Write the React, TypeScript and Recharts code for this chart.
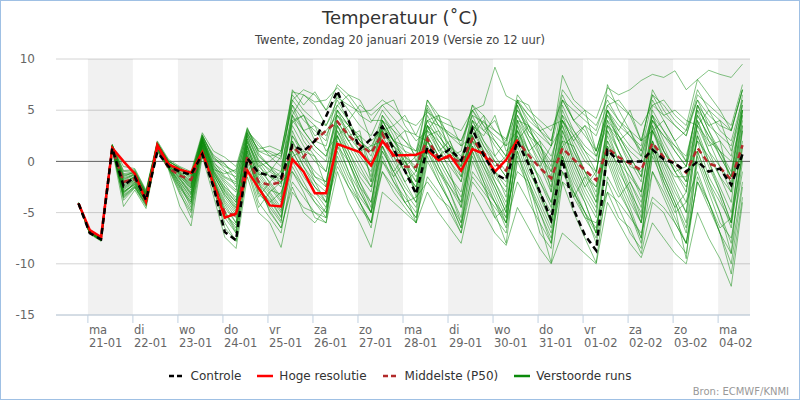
import React from "react";
import {
  LineChart,
  Line,
  XAxis,
  YAxis,
  CartesianGrid,
  ReferenceArea,
  ReferenceLine
} from "recharts";

// dagen op de x-as (uren vanaf ma 21-01 00:00)
const dayNames = ["ma", "di", "wo", "do", "vr", "za", "zo", "ma", "di", "wo", "do", "vr", "za", "zo", "ma"];
const dayDates = ["21-01", "22-01", "23-01", "24-01", "25-01", "26-01", "27-01", "28-01", "29-01", "30-01", "31-01", "01-02", "02-02", "03-02", "04-02"];
const dayTicks = [0, 24, 48, 72, 96, 120, 144, 168, 192, 216, 240, 264, 288, 312, 336];
const shadedDays = [[0, 24], [48, 72], [96, 120], [144, 168], [192, 216], [240, 264], [288, 312], [336, 353]];
const yTicks = [-15, -10, -5, 0, 5, 10];

// tijdstappen (6-uurlijks)
const stepHours = [
  -5, 1, 7, 13, 19, 25, 31, 37, 43, 49, 55, 61, 67, 73, 79, 85, 91, 97, 103, 109,
  115, 121, 127, 133, 139, 145, 151, 157, 163, 169, 175, 181, 187, 193, 199, 205, 211, 217, 223, 229,
  235, 241, 247, 253, 259, 265, 271, 277, 283, 289, 295, 301, 307, 313, 319, 325, 331, 337, 343, 349
];

const controle = [
  -4.1, -7.0, -7.6, 1.3, -2.4, -1.5, -3.8, 0.9, -0.5, -1.0, -1.3, 0.7, -2.5, -6.9, -7.7, 0.3, -1.1, -1.4, -1.6, 1.6,
  1.0, 2.0, 4.4, 6.9, 4.0, 1.2, 2.2, 3.4, 1.2, -0.9, -3.2, 1.4, 0.4, 1.2, 0.1, 3.2, 0.6, -1.2, -1.8, 2.0,
  -0.3, -3.0, -5.7, 0.2, -4.7, -7.2, -8.7, 1.1, 0.0, 0.0, 0.0, 1.15, 0.2, -0.2, -1.0, 0.0, -1.0, -0.7, -2.3, 0.7
];

const hogeResolutie = [
  -4.1, -6.7, -7.4, 1.3, 0.0, -1.2, -3.9, 1.6, -0.3, -0.8, -1.1, 0.9, -2.2, -5.5, -5.1, -0.9, -2.6, -4.3, -4.4, 0.2,
  -1.0, -3.1, -3.1, 1.7, 1.3, 0.9, -0.4, 2.0, 0.6, 0.6, 0.65, 1.1, 0.1, 0.6, -0.9, 1.2, 0.75, -1.0, 0.15, 2.1
];

const middelste = [
  -4.1, -6.9, -7.5, 1.3, -2.0, -1.7, -3.5, 1.3, -0.65, -1.4, -1.8, 0.8, -2.2, -5.0, -5.3, 0.5, -2.0, -2.3, -2.0, 1.5,
  0.4, 2.0, 3.0, 3.9, 2.5, 1.6, 0.8, 2.7, 0.4, -0.5, -0.55, 2.2, 0.3, 0.4, -0.1, 2.2, 0.8, -0.2, -0.9, 2.0,
  0.6, -0.65, -1.65, 1.3, 0.2, -0.85, -1.85, 1.3, 0.4, -0.2, -0.85, 1.8, 0.4, -0.2, -1.1, 1.3, -0.2, -0.6, -1.8, 1.6
];

const verstoordeRuns = [
  [-4.1, -6.9, -7.5, 1.6, -1.2, -1.0, -3.0, 1.8, -0.2, -0.8, -1.5, 2.5, -0.8, -1.2, -0.8, 3.2, 1.0, 0.5, 0.8,
    6.8, 6.5, 5.8, 6.0, 7.2, 6.0, 4.5, 3.8, 5.5, 4.2, 3.0, 2.6, 5.2, 3.5, 2.8, 2.0, 4.5, 3.8, 3.0, 2.2,
    5.8, 4.0, 3.0, 1.5, 8.4, 6.0, 5.0, 4.2, 7.2, 6.5, 7.0, 7.9, 8.5, 8.2, 8.85, 7.0, 8.0, 8.9, 8.5, 8.2, 9.5],
  [-4.0, -6.8, -7.4, 1.5, -0.5, -0.7, -2.8, 2.0, 0.2, -0.5, -1.0, 2.8, 1.0, 0.4, -0.5, 3.3, 0.8, -0.5, -1.5,
    7.0, 5.5, 6.8, 5.0, 6.2, 5.5, 4.8, 5.0, 6.0, 5.2, 4.0, 3.5, 4.8, 4.0, 3.5, 3.0, 5.0, 5.5, 9.2, 6.4,
    5.8, 4.5, 3.0, 2.0, 6.5, 4.0, 2.5, 1.0, 5.0, 3.0, 1.5, 0.5, 4.0, 2.5, 1.0, -0.5, 3.5, 2.0, 1.0, 0.0, 4.5],
  [-4.1, -7.0, -7.6, 1.3, -3.5, -2.5, -4.2, 1.2, -0.5, -2.5, -4.0, 1.5, -2.0, -4.5, -6.0, 1.5, -2.0, -3.5, -5.0,
    1.0, -1.0, -2.5, -3.5, 3.0, 1.0, -1.5, -3.0, 2.5, 0.5, -1.0, -2.5, 3.0, 1.0, -0.5, -2.0, 2.5, 0.0, -2.0, -4.0,
    2.0, -1.0, -3.0, -5.0, 3.0, 0.5, -2.0, -4.0, 2.5, 0.0, -1.5, -3.0, 3.5, 1.0, -1.0, -2.5, 2.0, 0.5, -1.5, -3.0, 3.0],
  [-4.2, -7.1, -7.8, 1.1, -4.4, -2.8, -4.6, 1.0, -0.8, -4.4, -6.3, 0.5, -3.4, -7.4, -8.5, -1.5, -5.0, -6.0, -8.4,
    -3.0, -4.5, -5.0, -6.0, -1.0, -4.0, -6.0, -8.4, -3.0, -4.0, -5.0, -6.0, -3.0, -5.0, -6.5, -8.0, -3.0, -5.0, -7.0, -8.2,
    -4.5, -6.5, -8.5, -10.0, -7.0, -8.0, -9.0, -10.0, -4.0, -6.0, -8.0, -9.4, -6.0, -7.5, -9.0, -10.0, -5.0, -7.5, -9.5, -12.2, -4.0],
  [-4.1, -6.9, -7.5, 1.4, -2.0, -1.5, -3.5, 1.6, -0.3, -1.2, -2.5, 2.2, -1.0, -3.0, -4.5, 2.5, 0.0, -1.5, -2.5,
    4.5, 2.0, 0.5, -1.0, 5.0, 2.5, 3.0, -2.0, 4.0, 2.0, 0.5, -1.0, 4.5, 2.5, 1.0, -0.5, 4.0, 2.0, 0.5, -1.0,
    4.5, 2.0, 0.0, -2.5, 5.5, 3.0, 1.0, -1.0, 4.5, 2.0, 0.0, -2.0, 5.0, 3.0, 1.0, -0.5, 4.5, 2.5, 1.0, -1.5, 5.0],
  [-4.1, -7.0, -7.7, 1.2, -3.0, -2.2, -3.9, 1.4, -0.6, -2.0, -3.5, 1.8, -1.5, -5.0, -6.5, 0.5, -3.0, -4.5, -6.0,
    3.0, 0.5, -2.0, -4.0, 2.0, -1.0, -4.0, -6.0, 0.5, -2.0, -3.5, -5.0, 1.5, -1.0, -3.0, -5.5, 2.5, 0.0, -2.5, -5.0,
    3.5, 0.0, -3.0, -6.0, 2.0, -1.0, -3.5, -5.5, 3.0, 0.0, -3.0, -6.0, 1.5, -1.5, -4.0, -6.5, 1.0, -2.0, -5.0, -8.0, 0.0],
  [-4.0, -6.8, -7.5, 1.7, -1.8, -1.2, -3.2, 1.9, 0.0, -0.6, -1.2, 2.6, 0.2, -0.5, -1.0, 3.0, 1.0, 1.0, 0.5,
    5.5, 4.0, 3.0, 2.0, 6.5, 5.0, 3.5, 2.5, 5.0, 3.5, 2.0, 1.0, 6.0, 4.0, 2.5, 1.5, 5.5, 4.5, 3.0, 2.0,
    6.0, 4.5, 3.5, 2.0, 7.0, 5.5, 4.5, 3.5, 6.0, 4.0, 3.0, 2.0, 6.5, 5.5, 4.0, 3.0, 7.0, 5.0, 4.0, 3.0, 7.0],
  [-4.1, -6.9, -7.6, 1.3, -2.6, -1.8, -3.6, 1.5, -0.4, -1.6, -3.0, 2.0, -0.5, -2.0, -3.0, 2.0, -1.0, -2.5, -4.0,
    2.0, 0.0, -1.5, -2.5, 4.0, 2.0, 0.5, -1.0, 3.5, 1.5, 0.0, -2.0, 2.5, 0.5, -1.5, -3.0, 3.0, 1.0, -1.0, -3.5,
    4.0, 2.0, -0.5, -3.0, 4.5, 1.5, -1.0, -3.5, 3.5, 1.0, -1.0, -3.5, 4.0, 1.5, -1.0, -3.0, 5.0, 2.0, -0.5, -3.0, 5.0],
  [-4.1, -7.0, -7.7, 1.2, -3.8, -2.6, -4.4, 1.1, -0.7, -3.2, -5.0, 1.0, -2.8, -6.0, -7.8, -0.5, -4.0, -5.5, -7.0,
    -1.0, -2.5, -3.5, -5.0, 0.5, -2.0, -4.0, -6.0, 1.0, -1.0, -3.0, -4.5, 2.0, -0.5, -3.0, -6.0, 1.0, -1.5, -4.0, -6.5,
    2.5, -0.5, -3.5, -6.0, 1.0, -2.0, -4.0, -7.0, 0.5, -2.5, -5.0, -7.5, 2.0, -1.0, -3.5, -6.0, 3.0, 0.0, -3.0, -6.0, 3.5],
  [-4.1, -6.9, -7.5, 1.5, -1.5, -1.0, -3.3, 1.7, -0.1, -1.0, -2.0, 2.3, 0.0, -1.5, -2.0, 2.8, 0.5, -0.5, -1.0,
    4.0, 4.5, 2.5, 3.0, 4.5, 3.5, 2.0, 0.5, 4.0, 2.0, 3.0, 0.0, 3.5, 2.5, 1.0, 0.0, 4.0, 3.0, 2.0, 0.5,
    5.0, 3.5, 2.0, 0.5, 4.0, 2.5, 1.0, 0.0, 5.5, 4.0, 2.5, 1.0, 4.5, 3.0, 1.5, 0.0, 5.5, 4.0, 2.0, 0.5, 6.5],
  [-4.1, -7.0, -7.6, 1.4, -2.3, -1.6, -3.4, 1.6, -0.3, -1.4, -2.8, 1.9, -1.2, -3.5, -5.0, 1.0, -2.5, -4.0, -3.0,
    0.0, -2.0, -4.0, -5.5, 2.5, 0.5, -2.0, -4.0, 2.0, 0.0, -2.0, -4.0, 1.0, -1.0, -2.5, -4.5, 1.5, -0.5, -2.5, -5.0,
    3.0, 0.5, -2.0, -4.5, 4.0, 1.0, -1.5, -4.0, 2.0, -1.0, -3.0, -5.0, 3.0, 0.5, -2.0, -4.0, 2.5, 0.0, -2.5, -5.0, 2.0],
  [-4.2, -7.0, -7.7, 1.3, -3.2, -2.0, -4.0, 1.3, -0.5, -2.2, -4.5, 1.3, -2.5, -5.5, -7.0, 0.0, -3.5, -2.0, -1.0,
    5.0, 3.0, 1.5, 0.5, 4.0, 2.0, 0.0, -2.0, 3.0, 1.0, -1.0, -3.0, 5.5, 3.5, 1.5, 0.0, 4.5, 2.0, 0.0, -1.5,
    6.0, 3.5, 1.0, -1.5, 5.0, 2.5, 0.5, -1.5, 7.5, 5.0, 3.0, 1.0, 6.0, 4.0, 2.0, 0.0, 5.5, 3.0, 1.0, -1.0, 5.5],
  [-4.1, -6.9, -7.5, 1.6, -0.9, -0.8, -3.0, 1.8, 0.1, -0.7, -1.8, 2.4, 0.5, -0.8, -2.5, 2.2, -0.5, 0.0, 1.0,
    6.5, 5.0, 4.0, 3.5, 5.5, 4.0, 2.0, 1.0, 4.5, 3.0, 1.0, -1.0, 5.0, 3.0, 1.5, 0.5, 3.5, 1.5, 0.0, -1.5,
    5.5, 3.0, 1.5, -0.5, 6.0, 4.0, 5.0, 1.0, 5.0, 3.5, 2.5, 1.5, 7.0, 5.0, 3.5, 2.5, 6.0, 4.5, 3.5, 3.0, 7.0],
  [-4.1, -7.0, -7.6, 1.2, -2.8, -2.0, -3.7, 1.4, -0.6, -1.8, -3.3, 1.7, -1.8, -4.0, -5.5, 1.2, -1.5, -3.0, -4.5,
    1.5, -0.5, -2.0, -3.0, 3.5, 1.5, -0.5, -2.5, 1.0, -1.0, -3.0, -6.0, 0.0, -2.0, -4.0, -6.5, 1.5, -1.0, -3.5, -6.0,
    1.0, -2.0, -5.0, -8.0, 1.5, -1.5, -4.0, -7.0, 0.0, -3.0, -5.0, -8.0, 1.0, -1.5, -4.0, -7.0, 0.5, -2.5, -5.0, -9.0, 1.5],
  [-4.1, -6.9, -7.6, 1.5, -2.2, -1.4, -3.6, 1.6, -0.2, -1.3, -2.2, 2.1, -0.8, -2.5, -3.5, 1.8, -0.5, -1.5, -2.0,
    3.5, 1.5, 0.0, -1.0, 3.5, 1.0, -1.0, -2.5, 3.0, 1.5, -0.5, -2.0, 3.5, 1.5, 0.0, -1.5, 2.5, 0.5, -1.0, -2.5,
    3.5, 1.0, 2.0, -3.0, 3.5, 1.0, -1.0, -3.0, 3.0, 1.0, -1.0, -3.0, 3.0, 1.0, -0.5, -2.0, 3.5, 1.0, -0.5, -2.0, 4.0],
  [-4.1, -7.0, -7.7, 1.3, -3.3, -2.4, -4.1, 1.2, -0.6, -2.8, -4.8, 1.2, -2.2, -5.0, -7.0, 0.3, -2.5, -4.8, -6.5,
    -2.0, -3.5, -5.0, -5.5, 1.0, -1.5, -3.5, -5.0, -1.0, -2.5, -4.0, -5.5, -1.5, -3.0, -5.0, -7.0, -2.0, -3.5, -5.5, -7.0,
    0.0, -2.5, -5.0, -7.5, -2.0, -3.0, -5.0, -8.0, -3.0, -4.0, -5.5, -7.0, -3.5, -4.5, -6.0, -8.0, -2.0, -4.0, -7.0, -10.0, -2.5],
  [-4.1, -6.9, -7.5, 1.5, -1.6, -1.2, -3.1, 1.7, -0.2, -0.9, -1.6, 2.4, -0.3, -1.8, -2.8, 2.6, 0.2, -1.0, -1.8,
    4.0, 2.5, 1.0, 0.0, 5.0, 3.5, 2.0, 1.0, 3.0, 1.5, 0.5, -0.5, 4.0, 4.5, 0.5, 1.0, 5.5, 3.5, 1.5, 0.0,
    4.5, 2.5, 0.5, -1.0, 4.0, 2.0, 0.0, -1.0, 5.0, 2.5, 0.5, -1.5, 4.5, 2.0, 0.0, -2.0, 4.5, 2.5, 0.5, -1.5, 5.0],
  [-4.1, -7.0, -7.6, 1.3, -2.5, -1.8, -3.8, 1.5, -0.4, -1.5, -2.6, 2.0, -1.0, -2.8, -4.0, 2.2, -0.8, -2.0, -3.5,
    2.5, 0.5, -1.0, -2.0, 3.0, 0.5, -2.0, -4.5, 4.0, 2.0, 0.0, -1.5, 2.0, 0.0, -2.0, -4.0, 3.5, 1.0, -2.0, -4.5,
    3.0, 0.0, -3.0, -6.0, 2.5, -0.5, -3.0, -5.0, 4.0, 1.0, -2.0, -4.5, 3.0, 0.0, -2.5, -5.0, 4.0, 1.0, -1.5, -4.0, 4.5],
  [-4.1, -6.9, -7.6, 1.4, -2.0, -1.6, -3.3, 1.6, -0.3, -1.1, -2.3, 2.2, -0.6, -2.2, -3.8, 1.5, -1.2, -2.8, -3.2,
    1.0, -1.0, -3.0, -4.5, 2.5, 0.0, -2.5, -4.0, 1.5, -0.5, -2.5, -4.0, 2.5, 0.5, -1.5, -3.5, 0.5, -2.0, -4.0, -6.0,
    1.5, -1.5, -4.0, -6.5, 0.5, -2.5, -5.0, -6.5, 1.5, -1.5, -4.0, -6.0, -1.0, -3.0, -5.5, -8.0, 0.0, -3.0, -6.0, -7.5, -1.0],
  [-4.1, -7.0, -7.7, 1.2, -3.6, -2.5, -4.3, 1.3, -0.7, -2.6, -4.2, 1.6, -1.8, -4.8, -6.8, 0.8, -2.8, -3.8, -5.5,
    -0.5, -2.5, -4.0, -5.0, 1.5, -1.0, -3.0, -5.0, 0.0, -2.0, -4.0, -5.5, 1.0, -1.5, -4.0, -6.5, 0.0, -2.5, -5.0, -8.0,
    0.5, -2.0, -4.5, -7.0, -1.0, -3.0, -5.0, -7.0, 1.0, -2.0, -4.5, -7.5, 0.5, -2.0, -4.5, -9.5, 1.0, -2.0, -4.0, -6.0, 0.5],
  [-4.1, -6.9, -7.5, 1.6, -1.3, -1.1, -3.1, 1.8, 0.0, -0.6, -1.3, 2.6, 0.3, -0.3, -1.2, 3.1, 1.5, 0.8, 0.2,
    6.0, 4.5, 3.5, 2.5, 5.0, 3.5, 2.5, 1.5, 3.5, 2.0, 1.5, 1.0, 4.0, 3.5, 2.5, 2.0, 5.0, 3.5, 2.5, 1.5,
    6.5, 5.0, 4.0, 3.0, 6.0, 5.0, 4.0, 3.0, 6.5, 5.5, 4.5, 3.5, 5.5, 4.5, 3.5, 2.5, 6.5, 5.5, 4.5, 3.5, 7.5],
  [-4.1, -7.0, -7.6, 1.4, -2.4, -1.7, -3.5, 1.5, -0.4, -1.7, -3.2, 1.8, -1.4, -3.2, -4.8, 1.4, -1.8, -3.2, -4.8,
    2.0, -0.5, -2.5, -4.0, 2.5, 0.0, -2.5, -5.0, 3.5, 1.0, -1.0, -2.5, 2.0, -0.5, -2.5, -4.0, 2.0, -0.5, -3.0, -5.5,
    4.0, 1.0, -2.0, -4.0, 3.0, 0.0, -2.5, -4.5, 2.0, 0.0, -2.5, -5.5, 2.0, -0.5, -3.0, -5.0, 2.5, -0.5, -3.0, -6.0, 3.0],
  [-4.1, -6.9, -7.5, 1.5, -1.9, -1.3, -3.4, 1.7, -0.1, -1.2, -2.4, 2.2, -0.4, -1.6, -2.2, 2.4, 0.0, -0.8, -1.6,
    4.5, 3.0, 1.5, 0.5, 4.5, 2.5, 1.0, 0.0, 3.5, 2.0, 1.0, 0.5, 4.0, 2.0, 0.5, -1.0, 3.0, 4.5, 0.5, 2.0,
    5.0, 3.0, 1.5, 0.0, 4.5, 3.0, 1.5, 0.5, 4.0, 2.5, 1.0, 0.0, 4.0, 2.5, 1.5, 0.5, 5.0, 3.5, 2.5, 1.5, 5.5],
  [-4.1, -7.0, -7.7, 1.3, -3.0, -2.1, -3.9, 1.4, -0.5, -2.2, -3.8, 1.5, -2.0, -4.2, -6.0, 0.6, -3.2, -4.2, -5.8,
    0.5, -1.5, -3.0, -4.0, 0.0, -2.5, -4.5, -6.0, -1.0, -3.0, -4.5, -6.0, 0.5, -2.0, -4.0, -6.0, -1.5, -3.0, -4.5, -6.0,
    -2.0, -4.0, -6.0, -8.0, -1.0, -3.5, -5.5, -7.5, -2.0, -4.5, -7.0, -8.5, -1.0, -3.5, -6.0, -8.0, -2.0, -4.5, -7.0, -9.0, -2.0],
  [-4.1, -6.9, -7.5, 1.5, -1.7, -1.3, -3.2, 1.7, -0.2, -1.0, -1.9, 2.1, -0.9, -2.6, -4.0, 2.8, 0.6, -0.5, -2.2,
    3.8, 4.5, 2.0, 1.5, 5.5, 6.5, 5.0, 2.0, 3.0, 3.5, 4.5, 2.5, 2.0, 0.5, 1.5, -1.5, 3.5, 2.5, 4.5, 1.0,
    2.0, 3.5, 0.5, -2.0, 1.5, 2.5, 3.5, 1.0, 4.5, 3.0, 5.0, 2.0, 3.0, 4.0, 2.0, 3.0, 6.0, 3.5, 4.0, 1.0, 5.0],
  [-4.1, -7.0, -7.6, 1.3, -2.9, -2.3, -3.9, 1.3, -0.5, -2.0, -3.6, 1.6, -1.6, -3.8, -5.2, 1.0, -2.2, -3.6, -5.4,
    0.5, 1.0, -1.5, -2.0, 3.5, 2.0, 2.5, -0.5, 1.5, -1.0, 0.5, -3.5, 2.5, 3.0, 0.0, -2.0, 4.0, 1.5, -0.5, 0.5,
    2.5, 0.0, -1.5, -4.0, 0.5, -3.5, -1.5, -2.5, 3.5, 2.0, -0.5, -1.0, 2.0, -2.0, -4.5, -3.0, 4.0, 1.5, 2.0, -2.5, 3.5],
  [-4.1, -6.9, -7.5, 1.6, -1.0, -0.9, -2.9, 1.8, 0.0, -0.7, -1.4, 2.5, 0.6, -0.2, -1.8, 2.9, 1.8, 0.5, -0.5,
    4.5, 6.5, 5.5, 3.5, 6.0, 4.0, 5.5, 4.5, 5.5, 6.0, 3.5, 2.0, 3.0, 4.5, 4.0, 1.5, 2.5, 4.0, 2.0, 0.5,
    6.0, 5.5, 3.0, 3.5, 4.0, 2.0, 3.5, 2.5, 5.5, 6.0, 4.5, 2.0, 6.5, 4.5, 5.0, 4.0, 3.5, 5.0, 3.0, 2.0, 6.0],
  [-4.1, -7.0, -7.7, 1.2, -3.4, -2.4, -4.2, 1.2, -0.7, -3.0, -5.5, 0.8, -2.6, -6.5, -7.8, -0.8, -4.5, -3.0, -2.0,
    -1.0, -3.0, -5.5, -6.0, 1.5, 0.0, -3.0, -5.0, 1.5, -1.5, 0.0, -3.0, 3.5, 1.5, -1.0, -4.5, 1.0, -2.0, -5.5, -4.5,
    -1.0, -2.0, -6.0, -9.9, -2.0, -5.0, -7.5, -9.9, -1.5, -3.5, -2.0, -4.0, 1.0, -2.5, -5.0, -4.0, -1.0, -4.0, -6.5, -5.5, 0.5],
  [-4.1, -6.9, -7.6, 1.4, -2.1, -1.5, -3.4, 1.6, -0.3, -1.3, -2.6, 2.0, -1.1, -2.9, -4.3, 1.6, -1.3, -1.0, 0.5,
    5.5, 3.0, 3.5, 1.0, 2.5, 3.5, 1.5, -1.5, 4.5, 2.5, -0.5, 0.5, 3.5, 1.0, 2.0, -0.5, 5.0, 3.0, 4.0, 1.5,
    3.0, 1.0, -0.5, 1.5, 3.5, 0.0, -2.5, -1.0, 5.0, 2.0, 3.0, 0.5, 4.5, 1.0, -1.0, -0.5, 5.5, 3.0, 0.5, -1.5, 6.0],
  [-4.1, -7.0, -7.6, 1.4, -2.7, -1.9, -3.7, 1.5, -0.4, -1.7, -3.1, 1.9, -1.3, -3.3, -4.6, 1.9, -0.2, -2.2, -3.8,
    2.5, 1.0, 0.5, -2.5, 4.5, 3.0, 1.0, 1.5, 2.0, 0.5, -2.0, -1.0, 3.0, 2.0, 0.5, -0.5, 2.0, 1.0, -1.5, -3.0,
    5.5, 2.5, 1.5, -1.0, 2.0, 1.5, -1.0, -2.5, 1.5, -0.5, -3.5, -6.0, 3.5, 0.0, -1.5, -1.5, 2.0, -1.5, -3.5, -6.5, 1.5],
  [-4.1, -6.9, -7.5, 1.5, -1.4, -1.1, -3.3, 1.7, -0.1, -1.1, -2.1, 2.3, -0.2, -1.0, -1.5, 2.7, 1.2, 1.5, 1.0,
    6.0, 7.0, 6.5, 5.0, 7.5, 6.5, 6.0, 4.0, 4.0, 3.0, 2.0, 0.5, 6.0, 4.5, 2.0, -1.0, 2.0, 0.5, -1.0, -2.0,
    4.0, 3.5, 2.5, 1.5, 6.0, 4.0, 3.0, 0.5, 3.5, 2.5, 0.5, -1.5, 5.5, 6.0, 4.5, 3.5, 8.0, 6.5, 5.0, 3.0, 7.0],
  [-4.1, -7.0, -7.7, 1.3, -3.1, -2.2, -4.0, 1.3, -0.6, -2.4, -4.0, 1.4, -2.3, -5.2, -6.2, 0.4, -2.0, -5.0, -6.5,
    -2.5, -5.0, -6.0, -4.5, -0.5, -2.5, -4.0, -6.5, 0.0, -1.5, -4.0, -3.5, -2.0, -3.5, -4.5, -7.0, -1.0, -2.5, -4.0, -5.5,
    1.0, -3.0, -7.0, -8.5, 0.5, -3.0, -5.5, -6.0, -3.0, -5.5, -6.5, -9.0, -4.0, -5.0, -7.5, -9.0, -1.5, -4.0, -7.0, -11.0, -3.5]
];

const data = stepHours.map((h, i) => {
  const row: Record<string, number | undefined> = {
    h,
    controle: controle[i],
    hres: hogeResolutie[i],
    median: middelste[i]
  };
  verstoordeRuns.forEach((run, r) => {
    row[`run${r}`] = run[i];
  });
  return row;
});

const FONT = "'DejaVu Sans', Verdana, sans-serif";

const DayTick = (props: any) => {
  const { x, y, payload } = props;
  const i = dayTicks.indexOf(payload.value);
  return (
    <text x={x + 1} y={y} fill="#666" fontSize={11.5} fontFamily={FONT} textAnchor="start">
      <tspan x={x + 1} dy={9}>{dayNames[i]}</tspan>
      <tspan x={x + 1} dy={13}>{dayDates[i]}</tspan>
    </text>
  );
};

const legendItems = [
  { label: "Controle", color: "#000", dash: "5 3" },
  { label: "Hoge resolutie", color: "#ff0000", dash: undefined },
  { label: "Middelste (P50)", color: "#b22a2a", dash: "5 3" },
  { label: "Verstoorde runs", color: "#0a8a0a", dash: undefined }
];

export default function App() {
  return (
    <div
      style={{
        position: "fixed",
        left: 0,
        top: 0,
        width: 800,
        height: 400,
        boxSizing: "border-box",
        border: "1px solid #9fc0e4",
        background: "#fff",
        fontFamily: FONT
      }}
    >
      <div style={{ position: "absolute", top: 6, left: 0, width: 798, textAlign: "center", fontSize: 18, color: "#333" }}>
        Temperatuur (˚C)
      </div>
      <div style={{ position: "absolute", top: 32, left: 0, width: 798, textAlign: "center", fontSize: 11.5, color: "#444" }}>
        Twente, zondag 20 januari 2019 (Versie zo 12 uur)
      </div>
      <div style={{ position: "absolute", left: -1, top: -1 }}>
        <LineChart width={800} height={400} data={data} margin={{ top: 59, right: 10, bottom: 50, left: 16 }}>
          <CartesianGrid vertical={false} stroke="#d4d4d4" yAxisId="l" />
          {shadedDays.map(([a, b]) => (
            <ReferenceArea key={a} x1={a} x2={b} yAxisId="l" fill="#000" fillOpacity={0.055} stroke="none" />
          ))}
          <XAxis
            dataKey="h"
            type="number"
            domain={[-17, 353]}
            ticks={dayTicks}
            interval={0}
            allowDataOverflow
            stroke="#c0d0e0"
            tickSize={8}
            tickMargin={2}
            height={35}
            tick={<DayTick />}
          />
          <YAxis
            yAxisId="l"
            domain={[-15, 10]}
            ticks={yTicks}
            width={40}
            axisLine={false}
            tickLine={false}
            tickSize={0}
            tickMargin={21}
            tick={{ fill: "#666", fontSize: 12, fontFamily: FONT }}
          />
          <YAxis
            yAxisId="r"
            orientation="right"
            domain={[-15, 10]}
            ticks={yTicks}
            width={40}
            axisLine={false}
            tickLine={false}
            tickSize={0}
            tickMargin={15}
            tick={{ fill: "#666", fontSize: 12, fontFamily: FONT }}
          />
          <ReferenceLine y={0} yAxisId="l" stroke="#666" strokeWidth={1} />
          {verstoordeRuns.map((_, r) => (
            <Line
              key={r}
              yAxisId="l"
              dataKey={`run${r}`}
              stroke="#0a8a0a"
              strokeOpacity={0.5}
              strokeWidth={1}
              dot={false}
              activeDot={false}
              isAnimationActive={false}
            />
          ))}
          <Line yAxisId="l" dataKey="median" stroke="#b22a2a" strokeWidth={2.5} strokeDasharray="6 4" dot={false} activeDot={false} isAnimationActive={false} />
          <Line yAxisId="l" dataKey="hres" stroke="#ff0000" strokeWidth={2.5} dot={false} activeDot={false} isAnimationActive={false} />
          <Line yAxisId="l" dataKey="controle" stroke="#000" strokeWidth={2.5} strokeDasharray="6 4" dot={false} activeDot={false} isAnimationActive={false} />
        </LineChart>
      </div>
      <div
        style={{
          position: "absolute",
          top: 368,
          left: 0,
          width: 798,
          display: "flex",
          justifyContent: "center",
          gap: 16,
          fontSize: 12,
          color: "#333"
        }}
      >
        {legendItems.map((it) => (
          <div key={it.label} style={{ display: "flex", alignItems: "center" }}>
            <svg width={16} height={10} style={{ marginRight: 6 }}>
              <line x1={0} y1={5} x2={16} y2={5} stroke={it.color} strokeWidth={2.5} strokeDasharray={it.dash} />
            </svg>
            <span>{it.label}</span>
          </div>
        ))}
      </div>
      <div style={{ position: "absolute", right: 10, top: 385, fontSize: 10, color: "#999" }}>Bron: ECMWF/KNMI</div>
    </div>
  );
}
